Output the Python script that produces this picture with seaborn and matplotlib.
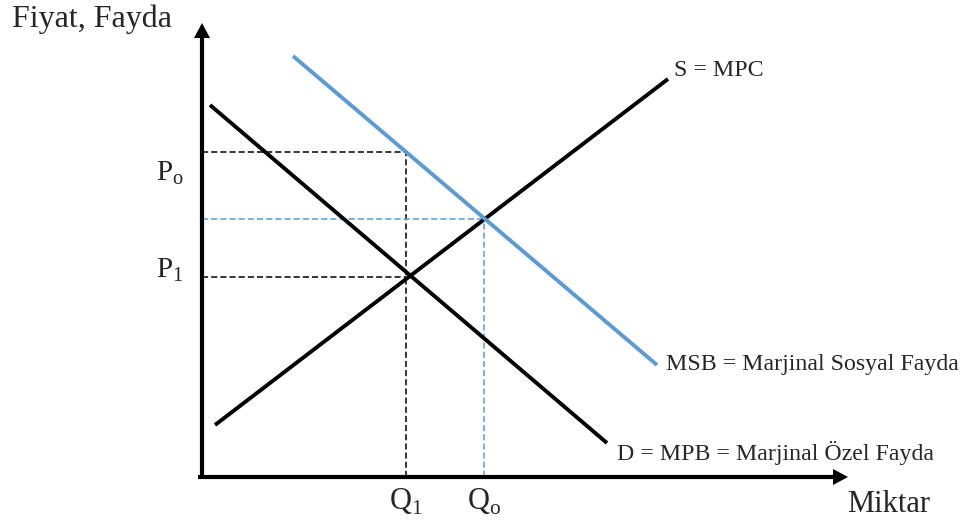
import numpy as np
import pandas as pd
import seaborn as sns
import matplotlib.pyplot as plt

# curve end points (quantity, price) in arbitrary diagram units
curve_names = ["S = MPC", "D = MPB", "MSB"]
q_start = [1.3, 0.8, 9.1]
p_start = [5.2, 37.2, 42.1]
q_end = [46.6, 40.5, 45.5]
p_end = [39.8, 3.4, 11.2]
curve_colors = ["black", "black", "#5B9BD5"]

# equilibrium markers
q1, q0 = 20.4, 28.2
p0, p1, p_soc = 32.5, 20.0, 25.8

curve_labels = ["S = MPC", "D = MPB = Marjinal Özel Fayda",
                "MSB = Marjinal Sosyal Fayda"]
label_pos = [(47.2, 40.1), (41.5, 1.7), (46.4, 10.7)]

x_axis_end, y_axis_end = 64.6, 45.4

sns.set_theme(style="white")
plt.rcParams["font.family"] = ["Liberation Serif", "DejaVu Serif"]
plt.rcParams["mathtext.fontset"] = "custom"
plt.rcParams["mathtext.rm"] = "Liberation Serif"

df = pd.DataFrame({
    "q": q_start + q_end,
    "p": p_start + p_end,
    "curve": curve_names * 2,
})

fig = plt.figure(figsize=(9.69, 5.23), dpi=100)
ax = fig.add_axes([0, 0, 1, 1])
ax.set_xlim(-20.2, 76.7)
ax.set_ylim(-4.6, 47.7)
ax.axis("off")

blue = curve_colors[2]
dash = (0, (4, 2))

# guide lines
ax.hlines(p0, 0, q1, color="black", lw=1.1, linestyle=dash)
ax.hlines(p1, 0, q1, color="black", lw=1.1, linestyle=dash)
ax.vlines(q1, 0, p0, color="black", lw=1.1, linestyle=dash)
ax.hlines(p_soc, 0, q0, color=blue, lw=1.1, linestyle=dash)
ax.vlines(q0, 0, p_soc, color=blue, lw=1.1, linestyle=dash)

sns.lineplot(data=df, x="q", y="p", hue="curve", hue_order=curve_names,
             palette=dict(zip(curve_names, curve_colors)), linewidth=2.8,
             sort=False, estimator=None, legend=False, ax=ax,
             solid_capstyle="butt")

# axes with arrow heads
ax.plot([-0.4, x_axis_end - 1.4], [0, 0], color="black", lw=3,
        solid_capstyle="butt")
ax.plot([0, 0], [-0.1, y_axis_end - 1.4], color="black", lw=3,
        solid_capstyle="butt")
ax.fill([x_axis_end - 1.5, x_axis_end, x_axis_end - 1.5],
        [0.8, 0, -0.8], color="black", lw=0)
ax.fill([-0.8, 0, 0.8],
        [y_axis_end - 1.5, y_axis_end, y_axis_end - 1.5],
        color="black", lw=0)

for text, (x, y) in zip(curve_labels, label_pos):
    ax.text(x, y, text, fontsize=17.2, ha="left", va="baseline")

ax.text(-19.0, 45.0, "Fiyat, Fayda", fontsize=23, va="baseline")
ax.text(64.5, -3.5, "Miktar", fontsize=22, va="baseline")
ax.text(-4.6, 29.7, r"P$_{\mathrm{o}}$", fontsize=21, va="baseline")
ax.text(-4.6, 20.0, r"P$_{\mathrm{1}}$", fontsize=21, va="baseline")
ax.text(q1, -3.3, r"Q$_{\mathrm{1}}$", fontsize=22, ha="center",
        va="baseline")
ax.text(q0, -3.3, r"Q$_{\mathrm{o}}$", fontsize=22, ha="center",
        va="baseline")

fig.savefig("out.png", dpi=100)
